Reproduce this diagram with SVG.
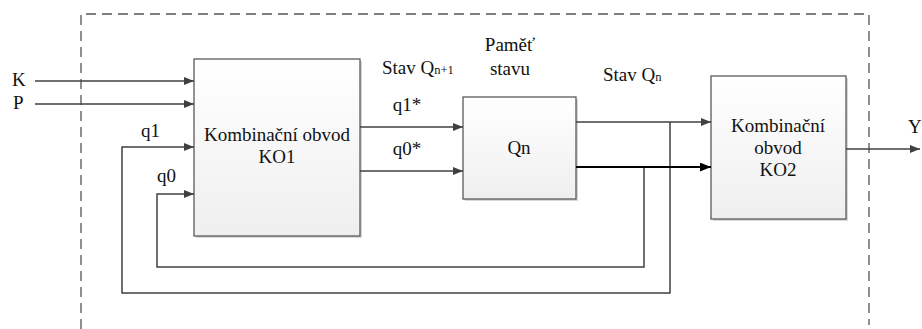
<svg xmlns="http://www.w3.org/2000/svg" width="922" height="329" viewBox="0 0 922 329">
<defs>
<linearGradient id="g" x1="0" y1="0" x2="0" y2="1"><stop offset="0" stop-color="#ffffff"/><stop offset="1" stop-color="#efefef"/></linearGradient>
<marker id="a" viewBox="0 0 10 8" refX="10" refY="4" markerWidth="10" markerHeight="8" markerUnits="userSpaceOnUse" orient="auto"><path d="M0,0 L10,4 L0,8 z" fill="#404040"/></marker>
<marker id="ab" viewBox="0 0 10 8" refX="10" refY="4" markerWidth="11" markerHeight="9" markerUnits="userSpaceOnUse" orient="auto"><path d="M0,0 L10,4 L0,8 z" fill="#000"/></marker>
</defs>
<style>
.box{fill:url(#g);stroke:#5a5a5a;stroke-width:1.3}
.sh{fill:#d8d8d8}
.c{fill:none;stroke:#404040;stroke-width:1.5}
.dash{fill:none;stroke:#555;stroke-width:1.3;stroke-dasharray:10,6}
</style>
<rect width="922" height="329" fill="#fff"/>
<path class="dash" d="M81,329 V14 H869 V325"/>
<g font-family="Liberation Serif, Times New Roman, serif" font-size="19" fill="#111">
<g id="KO1">
<rect class="sh" x="196" y="61" width="166" height="177"/>
<rect class="box" x="194" y="59" width="166" height="177"/>
<text x="277" y="141" text-anchor="middle">Kombinační obvod</text>
<text x="277" y="163" text-anchor="middle">KO1</text>
</g>
<g id="Qn">
<rect class="sh" x="465" y="99" width="113" height="102"/>
<rect class="box" x="463" y="97" width="113" height="102"/>
<text x="519" y="154" text-anchor="middle">Qn</text>
</g>
<g id="KO2">
<rect class="sh" x="713" y="78" width="135" height="143"/>
<rect class="box" x="711" y="76" width="135" height="143"/>
<text x="778" y="132" text-anchor="middle">Kombinační</text>
<text x="778" y="154" text-anchor="middle">obvod</text>
<text x="778" y="176" text-anchor="middle">KO2</text>
</g>
<g id="connectors">
<path class="c" d="M35,81 H194" marker-end="url(#a)"/>
<path class="c" d="M35,104 H194" marker-end="url(#a)"/>
<path class="c" d="M670,122 V293 H122 V147 H194" marker-end="url(#a)"/>
<path class="c" d="M644,167 V267 H157 V194 H194" marker-end="url(#a)"/>
<path class="c" d="M360,127 H463" marker-end="url(#a)"/>
<path class="c" d="M360,171 H463" marker-end="url(#a)"/>
<path class="c" d="M576,122 H711" marker-end="url(#a)"/>
<path d="M576,167 H711" fill="none" stroke="#000" stroke-width="2" marker-end="url(#ab)"/>
<path class="c" d="M846,149 H920" marker-end="url(#a)"/>
</g>
<g id="labels">
<text x="12" y="86">K</text>
<text x="13" y="109">P</text>
<text x="141" y="137">q1</text>
<text x="157" y="182">q0</text>
<text x="382" y="74">Stav Q<tspan font-size="12.5">n+1</tspan></text>
<text x="510" y="51" text-anchor="middle">Paměť</text>
<text x="510" y="75" text-anchor="middle">stavu</text>
<text x="407" y="111" text-anchor="middle">q1*</text>
<text x="407" y="155" text-anchor="middle">q0*</text>
<text x="603" y="81">Stav Q<tspan font-size="12.5">n</tspan></text>
<text x="908" y="133">Y</text>
</g>
</g>
</svg>
